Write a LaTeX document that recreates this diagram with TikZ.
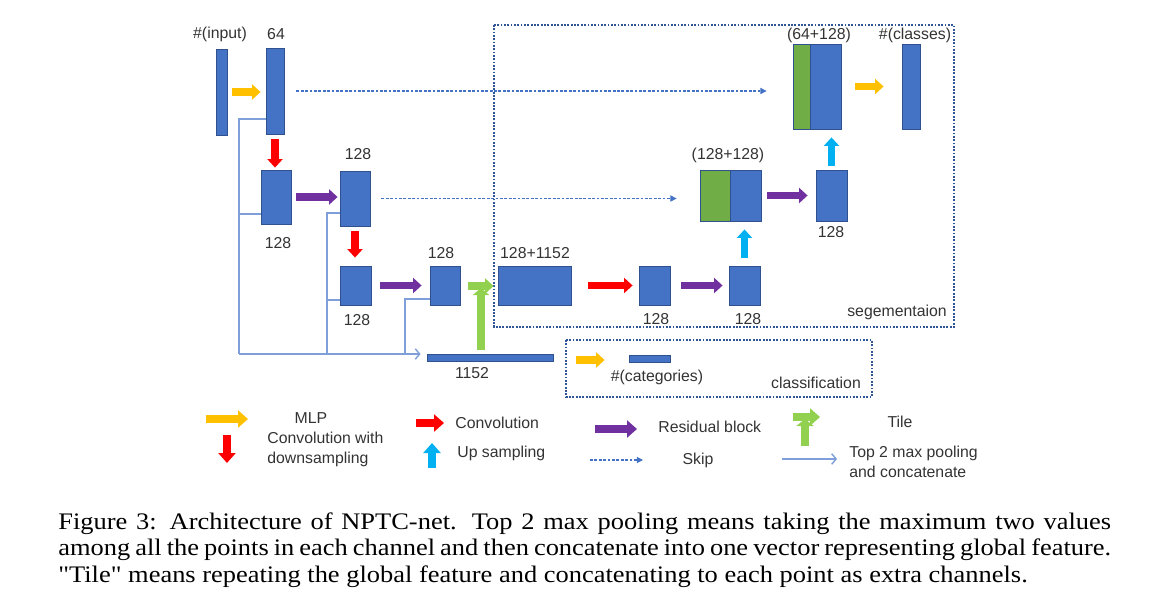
\documentclass[tikz,border=0pt]{standalone}
\usepackage{fontspec}
\setmainfont{Liberation Serif}[Ligatures=TeXOff]
\newfontfamily\capfont{Liberation Serif}[Ligatures=TeXOff,FakeStretch=1.115]
\newfontfamily\diagfont{Liberation Sans}
\usepackage{tikz}
\usetikzlibrary{arrows.meta}
\usetikzlibrary{positioning}
\definecolor{blockc}{HTML}{4472C4}
\definecolor{blockedge}{HTML}{2F528F}
\definecolor{catc}{HTML}{70AD47}
\definecolor{mlpc}{HTML}{FFC000}
\definecolor{convc}{HTML}{FF0000}
\definecolor{resc}{HTML}{7030A0}
\definecolor{upc}{HTML}{00B0F0}
\definecolor{tilec}{HTML}{92D050}
\definecolor{poolc}{HTML}{7F9FDB}
\definecolor{boxc}{HTML}{2F5597}

\begin{document}
\begin{tikzpicture}[
x=0.02cm, y=-0.02cm,
Block/.style={draw=blockedge,fill=blockc,line width=0.5pt,inner sep=0pt},
CatPart/.style={draw=blockedge,fill=catc,line width=0.5pt,inner sep=0pt},
BigArrow/.style={line width=0.15cm,-{Triangle[length=0.17cm,width=0.3cm]}},
LegArrow/.style={line width=0.17cm,-{Triangle[length=0.2cm,width=0.34cm]}},
SkipArrow/.style={draw=blockc,line width=0.6pt,dash pattern=on 1.6pt off 0.9pt,-{Triangle[length=3.5pt,width=3.5pt]}},
PoolLine/.style={draw=poolc,line width=0.8pt},
PoolTip/.style={-{Straight Barb[length=2.5pt,width=6pt]}},
DotBox/.style={draw=boxc,line width=1.2pt,dash pattern=on 1pt off 0.9pt},
Lbl/.style={font=\diagfont\fontsize{9}{11.4}\selectfont,text=black!80,inner sep=0pt}
]
\useasboundingbox (0,0) rectangle (1170,606);

% frames of the two heads
\draw[DotBox] (494,25) rectangle (954,327);
\draw[DotBox] (566,340) rectangle (872,397);

% encoder
\node[Block, minimum width=0.22cm, minimum height=1.72cm] (in1) at (221.5,92) {};
\node[Block, minimum width=0.36cm, minimum height=1.72cm] (c64) at (275,91) {};
\node[Block, minimum width=0.6cm, minimum height=1.08cm] (c128a) at (276,197) {};
\node[Block, minimum width=0.6cm, minimum height=1.1cm] (c128b) at (355,198.5) {};
\node[Block, minimum width=0.62cm, minimum height=0.78cm] (c128c) at (355.5,285.5) {};
\node[Block, minimum width=0.6cm, minimum height=0.78cm] (c128d) at (445,285.5) {};
\node[Block, minimum width=2.52cm, minimum height=0.14cm] (glob) at (490,357.5) {};

% segmentation head
\node[Block, minimum width=1.46cm, minimum height=0.78cm] (cat1) at (534.5,285.5) {};
\node[Block, minimum width=0.62cm, minimum height=0.78cm] (seg1) at (654.5,285.5) {};
\node[Block, minimum width=0.62cm, minimum height=0.78cm] (seg2) at (744.5,285.5) {};
\node[CatPart, minimum width=0.6cm, minimum height=1.02cm] (cc1g) at (715,195.5) {};
\node[Block, minimum width=0.62cm, minimum height=1.02cm] (cc1b) at (745.5,195.5) {};
\node[Block, minimum width=0.62cm, minimum height=1.02cm] (seg3) at (831.5,195.5) {};
\node[CatPart, minimum width=0.34cm, minimum height=1.7cm] (cc2g) at (801.5,86.5) {};
\node[Block, minimum width=0.62cm, minimum height=1.7cm] (cc2b) at (825.5,86.5) {};
\node[Block, minimum width=0.36cm, minimum height=1.7cm] (out) at (911,86.5) {};

% classification head
\node[Block, minimum width=0.82cm, minimum height=0.14cm] (catbar) at (649.5,358.5) {};
\coordinate (clsin) at (576,360);

% labels
\node[Lbl] (lin) at (220,34) {\#(input)};
\node[Lbl] (l64) at (276,34) {64};
\node[Lbl] (l128a) at (278,243) {128};
\node[Lbl] (l128b) at (358,154) {128};
\node[Lbl] (l128c) at (357,320) {128};
\node[Lbl] (l128d) at (441,253) {128};
\node[Lbl] (lglob) at (472,373) {1152};
\node[Lbl] (lcat1) at (535,253) {128+1152};
\node[Lbl] (lseg1) at (656,319) {128};
\node[Lbl] (lseg2) at (748,319) {128};
\node[Lbl] (lcc1) at (728,155) {(128+128)};
\node[Lbl] (lseg3) at (831,232) {128};
\node[Lbl] (lcc2) at (819,35) {(64+128)};
\node[Lbl] (lout) at (915,35) {\#(classes)};
\node[Lbl] (lsegbox) at (897,312) {segementaion};
\node[Lbl] (lcatbar) at (657,377) {\#(categories)};
\node[Lbl] (lclsbox) at (816,383) {classification};

% block arrows
\draw[BigArrow, mlpc] (in1.east) -- (in1.east -| c64.west) [shorten <=0.1cm, shorten >=0.1cm];
\draw[BigArrow, convc] (c64.south) -- (c64.south |- c128a.north) [shorten <=0.1cm, shorten >=0.04cm];
\draw[BigArrow, resc] (c128a.east) -- (c128a.east -| c128b.west) [shorten <=0.1cm, shorten >=0.04cm];
\draw[BigArrow, convc] (c128b.south) -- (c128b.south |- c128c.north) [shorten <=0.1cm, shorten >=0.16cm];
\draw[BigArrow, resc] (c128c.east) -- (c128c.east -| c128d.west) [shorten <=0.18cm, shorten >=0.16cm];
\draw[BigArrow, convc] (cat1.east) -- (cat1.east -| seg1.west) [shorten <=0.34cm, shorten >=0.12cm];
\draw[BigArrow, resc] (seg1.east) -- (seg1.east -| seg2.west) [shorten <=0.22cm, shorten >=0.12cm];
\draw[BigArrow, upc] (seg2.north) -- (seg2.north |- cc1b.south) [shorten <=0.16cm, shorten >=0.16cm];
\draw[BigArrow, resc] (cc1b.east) -- (cc1b.east -| seg3.west) [shorten <=0.12cm, shorten >=0.16cm];
\draw[BigArrow, upc] (seg3.north) -- (seg3.north |- cc2b.south) [shorten <=0.08cm, shorten >=0.16cm];
\draw[BigArrow, mlpc] (cc2b.east) -- (cc2b.east -| out.west) [shorten <=0.28cm, shorten >=0.36cm];
\draw[BigArrow, mlpc] (clsin) -- (clsin -| catbar.west) [shorten >=0.48cm];

% tile
\coordinate (tk) at (481,286);
\draw[BigArrow, tilec] ([xshift=-0.26cm]tk) -- (tk -| cat1.west) [shorten >=0.08cm];
\draw[BigArrow, tilec, -{Triangle[length=0.14cm,width=0.32cm]}] (tk |- glob.north) -- (tk) [shorten <=0.08cm, shorten >=0.04cm];

% skips
\draw[SkipArrow] (c64.east) -- (c64.east -| cc2g.west) [shorten <=0.24cm, shorten >=0.52cm];
\draw[SkipArrow] (c128b.east) -- (c128b.east -| cc1g.west) [shorten <=0.22cm, shorten >=0.46cm];

% top 2 max pooling
\coordinate (bus1) at (239,354);
\coordinate (bus2) at (327,354);
\coordinate (bus3) at (405,354);
\draw[PoolLine] (c64.west) ++(0,28) -| (bus1);
\draw[PoolLine] (c128a.west) ++(0,17) -| (bus1);
\draw[PoolLine] (c128b.west) ++(0,14.5) -| (bus2);
\draw[PoolLine] (c128c.west) ++(0,14.5) -| (bus2);
\draw[PoolLine] (c128d.west) ++(0,13.5) -| (bus3);
\draw[PoolLine, PoolTip] (bus1) -- (bus1 -| glob.west) [shorten >=0.12cm];

% legend
\draw[LegArrow, mlpc] (206,419) -- (248,419);
\node[Lbl] (tmlp) at (311,418) {MLP};
\draw[LegArrow, convc] (227,435) -- (227,463);
\node[Lbl, anchor=west, align=left] (tdown) at (267,449) {Convolution with\\downsampling};
\draw[LegArrow, convc] (416,423) -- (444,423);
\node[Lbl, anchor=west] (tconv) at (455,423) {Convolution};
\draw[LegArrow, upc] (432,468) -- (432,443);
\node[Lbl, anchor=west] (tup) at (457,453) {Up sampling};
\draw[LegArrow, resc] (595,429) -- (637,429);
\node[Lbl, anchor=west] (tres) at (658,427) {Residual block};
\draw[SkipArrow] (590,460) -- (643,460);
\node[Lbl] (tskip) at (698,460) {Skip};
\draw[LegArrow, tilec] (793,417) -- (820,417);
\draw[LegArrow, tilec, -{Triangle[length=0.14cm,width=0.34cm]}] (805,446) -- (805,419);
\node[Lbl] (ttile) at (900,422) {Tile};
\draw[PoolLine, PoolTip] (782,459) -- (837,459);
\node[Lbl, anchor=west, align=left] (tpool) at (849,462) {Top 2 max pooling\\and concatenate};

% caption
\node[anchor=north west, text width=21.06cm, align=justify, inner sep=0pt,
  font=\capfont\fontsize{13.5}{15.2}\selectfont] (caption) at (58,512)
  {Figure 3: Architecture of NPTC-net. Top 2 max pooling means taking the maximum two values\linebreak
   among all the points in each channel and then concatenate into one vector representing global feature.\linebreak
   "Tile" means repeating the global feature and concatenating to each point as extra channels.};
\end{tikzpicture}
\end{document}
